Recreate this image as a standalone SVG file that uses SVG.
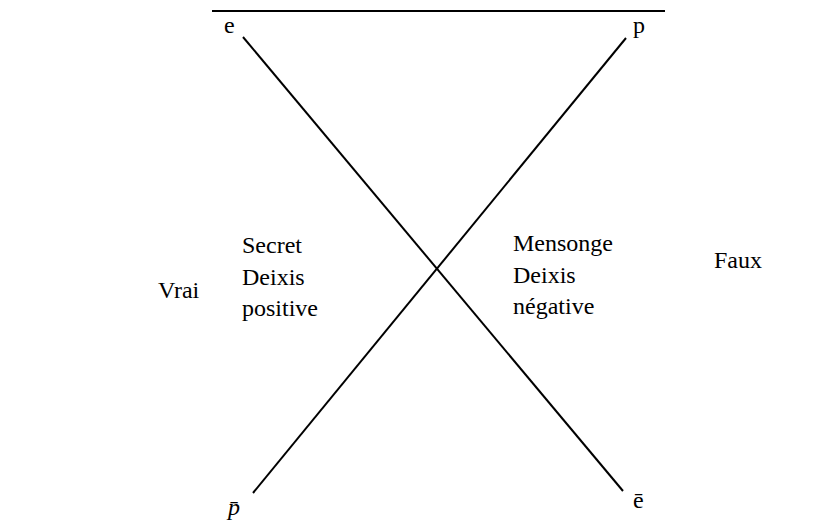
<svg xmlns="http://www.w3.org/2000/svg" width="826" height="526" viewBox="0 0 826 526">
<style>
text{font-family:"Liberation Serif","Times New Roman",Times,serif;font-size:24px;fill:#000}
.ln{stroke:#000;stroke-width:2;fill:none}
</style>
<rect width="826" height="526" fill="#fff"/>
<g id="connectors">
<line class="ln" x1="212" y1="11" x2="665" y2="11"/>
<line class="ln" x1="243" y1="37" x2="623" y2="491"/>
<line class="ln" x1="626" y1="38" x2="253" y2="493"/>
</g>
<g id="node-e"><text x="224" y="33">e</text></g>
<g id="node-p"><text x="633" y="33">p</text></g>
<g id="node-pbar"><text x="228" y="515" font-style="italic">p̄</text></g>
<g id="node-ebar"><text x="633" y="508">ē</text></g>
<g id="node-vrai"><text x="158" y="298">Vrai</text></g>
<g id="node-faux"><text x="714" y="268">Faux</text></g>
<g id="node-secret"><text x="242" y="253">Secret</text><text x="242" y="285">Deixis</text><text x="242" y="316">positive</text></g>
<g id="node-mensonge"><text x="513" y="251">Mensonge</text><text x="513" y="283">Deixis</text><text x="513" y="314">négative</text></g>
</svg>
